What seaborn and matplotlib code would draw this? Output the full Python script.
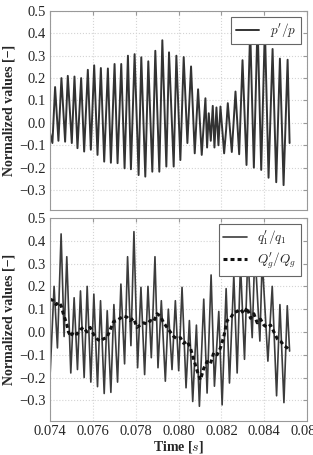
import matplotlib
matplotlib.use("Agg")
import matplotlib.pyplot as plt
import pandas as pd
import seaborn as sns

# p'/p  (time [s], value)
p_time = [
    0.074000, 0.074109, 0.074234, 0.074390, 0.074530, 0.074702, 0.074827, 0.075014,
    0.075139, 0.075279, 0.075451, 0.075591, 0.075763, 0.075903, 0.076059, 0.076215,
    0.076371, 0.076527, 0.076699, 0.076839, 0.077011, 0.077151, 0.077323, 0.077479,
    0.077635, 0.077775, 0.077947, 0.078134, 0.078259, 0.078446, 0.078586, 0.078774,
    0.078914, 0.079101, 0.079242, 0.079429, 0.079554, 0.079772, 0.079897, 0.080084,
    0.080240, 0.080412, 0.080583, 0.080755, 0.080911, 0.081082, 0.081254, 0.081332,
    0.081410, 0.081504, 0.081597, 0.081675, 0.081769, 0.081862, 0.081956, 0.082128,
    0.082221, 0.082299, 0.082486, 0.082658, 0.082830, 0.082986, 0.083173, 0.083344,
    0.083516, 0.083688, 0.083859, 0.084031, 0.084202, 0.084390, 0.084561, 0.084733,
    0.084904, 0.085092, 0.085185,
]
p_value = [
    -0.046, -0.090, 0.160, -0.080, 0.200, -0.084, 0.210, -0.090,
    0.207, -0.113, 0.200, -0.128, 0.237, -0.120, 0.257, -0.143,
    0.245, -0.173, 0.243, -0.178, 0.263, -0.180, 0.263, -0.203,
    0.300, -0.207, 0.307, -0.233, 0.293, -0.240, 0.275, -0.218,
    0.322, -0.218, 0.369, -0.195, 0.315, -0.195, 0.300, -0.166,
    0.294, -0.090, 0.252, -0.136, 0.150, -0.143, 0.110, -0.110,
    0.043, -0.080, 0.076, -0.110, 0.069, -0.100, 0.073, -0.136,
    -0.030, 0.088, -0.130, 0.140, -0.140, 0.280, -0.188, 0.420,
    -0.200, 0.450, -0.210, 0.430, -0.245, 0.330, -0.265, 0.287,
    -0.278, 0.282, -0.090,
]

# q1'/q1
q_time = [
    0.074000, 0.074187, 0.074343, 0.074515, 0.074655, 0.074780, 0.074967, 0.075123,
    0.075279, 0.075420, 0.075591, 0.075732, 0.075903, 0.076044, 0.076215, 0.076356,
    0.076527, 0.076668, 0.076839, 0.076980, 0.077151, 0.077307, 0.077479, 0.077619,
    0.077775, 0.077916, 0.078087, 0.078243, 0.078415, 0.078571, 0.078727, 0.078898,
    0.079039, 0.079195, 0.079382, 0.079522, 0.079694, 0.079850, 0.080006, 0.080162,
    0.080349, 0.080505, 0.080661, 0.080833, 0.080973, 0.081176, 0.081332, 0.081519,
    0.081675, 0.081878, 0.082034, 0.082221, 0.082377, 0.082580, 0.082736, 0.082892,
    0.083079, 0.083235, 0.083438, 0.083563, 0.083797, 0.083906, 0.084171, 0.084374,
    0.084577, 0.084733, 0.084920, 0.085076, 0.085185,
]
q_value = [
    -0.190, 0.200, -0.070, 0.430, -0.020, 0.330, -0.180, 0.150,
    -0.165, 0.180, -0.200, 0.200, -0.220, 0.166, -0.240, 0.137,
    -0.270, 0.093, -0.265, 0.120, -0.220, 0.210, -0.140, 0.330,
    -0.060, 0.440, -0.157, 0.196, -0.187, 0.200, -0.113, 0.330,
    -0.157, 0.137, -0.216, 0.100, -0.165, 0.137, -0.170, 0.196,
    -0.245, 0.050, -0.305, 0.030, -0.326, 0.144, -0.268, 0.250,
    -0.238, 0.090, -0.320, 0.190, -0.224, 0.250, -0.180, 0.300,
    -0.120, 0.340, -0.025, 0.360, -0.040, 0.320, -0.128, 0.200,
    -0.280, 0.120, -0.310, 0.115, -0.084,
]

# Qg'/Qg
g_time = [
    0.074000, 0.074156, 0.074281, 0.074406, 0.074515, 0.074624, 0.074780, 0.074858,
    0.074967, 0.075092, 0.075248, 0.075404, 0.075560, 0.075716, 0.075872, 0.076028,
    0.076184, 0.076340, 0.076496, 0.076652, 0.076808, 0.076964, 0.077120, 0.077276,
    0.077432, 0.077588, 0.077744, 0.077900, 0.078056, 0.078212, 0.078368, 0.078524,
    0.078680, 0.078836, 0.078992, 0.079148, 0.079304, 0.079460, 0.079616, 0.079772,
    0.079928, 0.080084, 0.080240, 0.080396, 0.080552, 0.080708, 0.080864, 0.081020,
    0.081176, 0.081332, 0.081488, 0.081644, 0.081800, 0.081956, 0.082112, 0.082268,
    0.082424, 0.082580, 0.082736, 0.082892, 0.083048, 0.083204, 0.083360, 0.083516,
    0.083672, 0.083828, 0.083984, 0.084140, 0.084296, 0.084452, 0.084608, 0.084764,
    0.084920, 0.085076, 0.085170,
]
g_value = [
    0.144, 0.137, 0.120, 0.130, 0.115, 0.078, 0.034, 0.000,
    -0.020, 0.000, -0.010, 0.010, 0.020, 0.000, 0.020, -0.010,
    -0.030, -0.040, -0.030, -0.025, 0.010, 0.045, 0.050, 0.060,
    0.070, 0.065, 0.050, 0.060, 0.020, 0.030, 0.040, 0.035,
    0.050, 0.045, 0.080, 0.070, 0.040, 0.020, 0.000, -0.020,
    -0.030, -0.025, -0.050, -0.040, -0.070, -0.120, -0.170, -0.210,
    -0.160, -0.130, -0.140, -0.090, -0.100, -0.070, -0.020, 0.050,
    0.060, 0.085, 0.090, 0.100, 0.080, 0.107, 0.060, 0.080,
    0.040, 0.056, 0.030, 0.020, 0.030, 0.000, -0.030, -0.040,
    -0.060, -0.070, -0.080,
]

yticks = [-0.3, -0.2, -0.1, 0.0, 0.1, 0.2, 0.3, 0.4, 0.5]
xticks = [0.074, 0.076, 0.078, 0.080, 0.082, 0.084, 0.086]

sns.set_style("whitegrid", {
    "grid.color": "#d4d4d4",
    "grid.linestyle": ":",
    "axes.edgecolor": "#999999",
})
plt.rcParams["font.family"] = ["Liberation Serif", "DejaVu Serif"]
plt.rcParams["mathtext.fontset"] = "cm"
plt.rcParams["font.size"] = 10

df_p = pd.DataFrame({"t": p_time, "v": p_value})
df_q = pd.DataFrame({"t": q_time, "v": q_value})
df_g = pd.DataFrame({"t": g_time, "v": g_value})

fig = plt.figure(figsize=(3.13, 4.55), dpi=100)
ax1 = fig.add_axes([0.16, 0.538, 0.821, 0.438])
ax2 = fig.add_axes([0.16, 0.075, 0.821, 0.446])

sns.lineplot(data=df_p, x="t", y="v", ax=ax1, color="#333333", linewidth=1.4,
             estimator=None, sort=False, label=r"$p'/p$")
sns.lineplot(data=df_q, x="t", y="v", ax=ax2, color="#3c3c3c", linewidth=1.2,
             estimator=None, sort=False, label=r"$q_1'/q_1$")
sns.lineplot(data=df_g, x="t", y="v", ax=ax2, color="#111111", linewidth=2.2,
             estimator=None, sort=False, linestyle=(0, (1.3, 1.0)),
             label=r"$Q_g'/Q_g$")

for ax in (ax1, ax2):
    ax.set_xlim(0.074, 0.086)
    ax.set_ylim(-0.39, 0.5)
    ax.set_xticks(xticks)
    ax.set_yticks(yticks)
    ax.set_yticklabels([f"{v:.1f}".replace("-", "\u2212") for v in yticks])
    ax.tick_params(direction="in", top=True, right=True, length=3,
                   color="#999999", labelsize=10.5, pad=3)
    ax.set_ylabel("Normalized values [\u2212]", fontweight="bold", fontsize=10,
                  labelpad=3)
    leg = ax.legend(loc="upper right", frameon=True, fancybox=False,
                    edgecolor="#666666", framealpha=1, fontsize=9.5,
                    handlelength=1.8, borderaxespad=0.45, labelspacing=0.3,
                    borderpad=0.35)
    leg.get_frame().set_linewidth(0.8)

ax1.set_xlabel("")
ax1.tick_params(labelbottom=False)
ax2.set_xticklabels([f"{v:.3f}" for v in xticks])
ax2.set_xlabel("Time [$s$]", fontweight="bold", fontsize=10, labelpad=1)

plt.savefig("out.png", dpi=100)
